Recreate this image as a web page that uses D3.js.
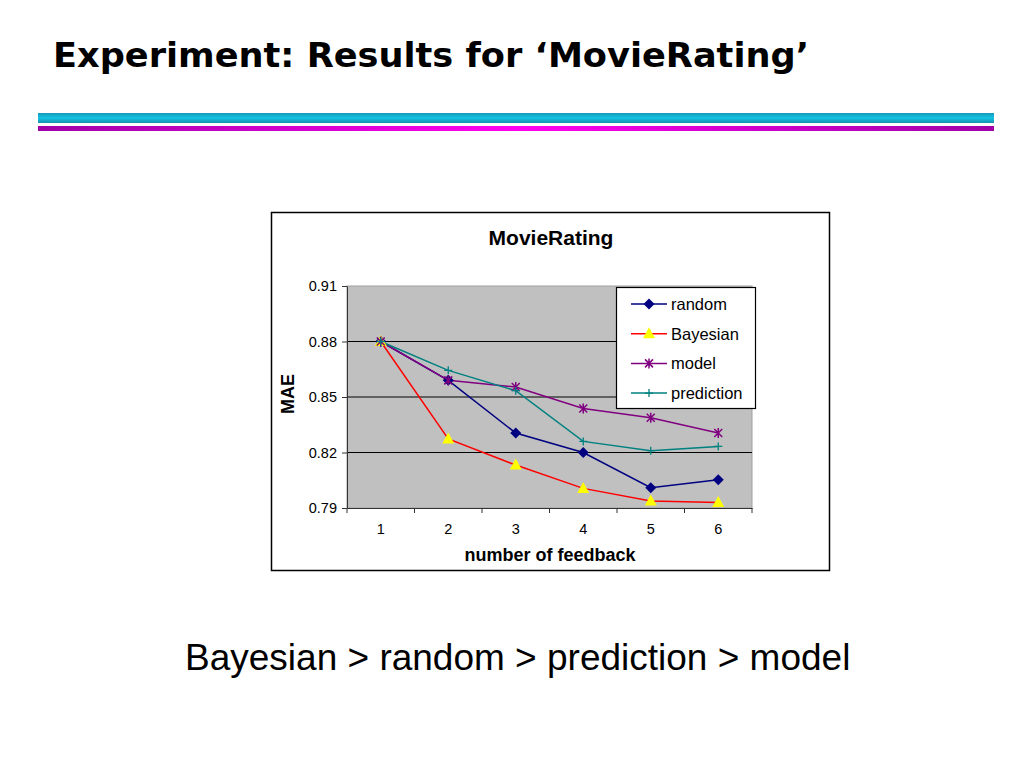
<!DOCTYPE html>
<meta charset="utf-8">
<script src="https://d3js.org/d3.v7.min.js"></script>
<style>
  body { margin: 0; background: #fff; }
</style>
<div id="slide"></div>
<script>

// data
var feedback = [1, 2, 3, 4, 5, 6];
var random = [0.880, 0.859, 0.8305, 0.820, 0.801, 0.8053];
var bayesian = [0.880, 0.8273, 0.8132, 0.8006, 0.7938, 0.7930];
var model = [0.880, 0.859, 0.8554, 0.8438, 0.8388, 0.8305];
var prediction = [0.880, 0.8644, 0.8534, 0.826, 0.821, 0.8233];
var yTicks = [0.79, 0.82, 0.85, 0.88, 0.91];

var series = [
  {name: "random", values: random, color: "#000080", marker: "diamond"},
  {name: "Bayesian", values: bayesian, color: "#ff0000", marker: "triangle"},
  {name: "model", values: model, color: "#800080", marker: "star"},
  {name: "prediction", values: prediction, color: "#008080", marker: "plus"}
];
var markerFill = {diamond: "#000080", triangle: "#ffff00", star: "#800080", plus: "#008080"};

var svg = d3.select("#slide")
  .append("svg")
    .attr("width", 1024)
    .attr("height", 768);

var defs = svg.append("defs");
var g1 = defs.append("linearGradient").attr("id", "cyanGrad")
  .attr("x1", 0).attr("y1", 0).attr("x2", 0).attr("y2", 1);
g1.append("stop").attr("offset", "0%").attr("stop-color", "#1899b8");
g1.append("stop").attr("offset", "50%").attr("stop-color", "#12c4e4");
g1.append("stop").attr("offset", "100%").attr("stop-color", "#1a8fae");
var g2 = defs.append("linearGradient").attr("id", "magGrad")
  .attr("x1", 0).attr("y1", 0).attr("x2", 1).attr("y2", 0);
g2.append("stop").attr("offset", "0%").attr("stop-color", "#a000a8");
g2.append("stop").attr("offset", "50%").attr("stop-color", "#ff00f0");
g2.append("stop").attr("offset", "100%").attr("stop-color", "#a000a8");

// slide title
svg.append("text")
  .attr("x", 53)
  .attr("y", 67)
  .style("font-family", "DejaVu Sans")
  .style("font-weight", "bold")
  .style("font-size", "34px")
  .attr("textLength", 756)
  .attr("lengthAdjust", "spacingAndGlyphs")
  .text("Experiment: Results for \u2018MovieRating\u2019");

// decorative bars
svg.append("rect").attr("x", 38).attr("y", 113).attr("width", 956).attr("height", 10)
  .attr("fill", "url(#cyanGrad)");
svg.append("rect").attr("x", 38).attr("y", 126).attr("width", 956).attr("height", 5)
  .attr("fill", "url(#magGrad)");

// chart frame
svg.append("rect")
  .attr("x", 271.5).attr("y", 212.5)
  .attr("width", 558).attr("height", 358)
  .attr("fill", "#fff")
  .attr("stroke", "#000")
  .attr("stroke-width", 1.5);

var margin = {left: 347, top: 286},
    width = 752 - 347,
    height = 508 - 286;

var chart = svg.append("g")
  .attr("transform", "translate(" + margin.left + "," + margin.top + ")");

var x = d3.scaleBand()
  .domain(feedback)
  .range([0, width]);

var y = d3.scaleLinear()
  .domain([0.79, 0.91])
  .range([height, 0]);

// plot area
chart.append("rect")
  .attr("width", width)
  .attr("height", height)
  .attr("fill", "#c0c0c0")
  .attr("stroke", "#a0a0a0");

// gridlines
chart.selectAll(".grid")
  .data(yTicks.slice(1, 4))
  .enter()
  .append("line")
    .attr("x1", 0)
    .attr("x2", width)
    .attr("y1", function(d) { return y(d); })
    .attr("y2", function(d) { return y(d); })
    .attr("stroke", "#000")
    .attr("stroke-width", 1.2);

// Y axis
var yAxis = chart.append("g")
  .call(d3.axisLeft(y).tickValues(yTicks).tickFormat(d3.format(".2f")).tickSize(5).tickSizeOuter(0));
yAxis.select(".domain").attr("stroke", "#333");
yAxis.selectAll("line").attr("stroke", "#333");
yAxis.selectAll("text")
  .attr("x", -10)
  .style("font-family", "Liberation Sans")
  .style("font-size", "14.5px")
  .attr("fill", "#000");

// X axis
var xAxis = chart.append("g")
  .attr("transform", "translate(0," + height + ")")
  .call(d3.axisBottom(x).tickSize(0).tickSizeOuter(0));
xAxis.select(".domain").attr("stroke", "#333");
xAxis.selectAll("text")
  .attr("y", 16)
  .style("font-family", "Liberation Sans")
  .style("font-size", "14.5px")
  .attr("fill", "#000");
// tick marks between categories
xAxis.selectAll(".sep")
  .data(d3.range(feedback.length + 1))
  .enter()
  .append("line")
    .attr("x1", function(i) { return i * x.bandwidth(); })
    .attr("x2", function(i) { return i * x.bandwidth(); })
    .attr("y1", 0)
    .attr("y2", 5)
    .attr("stroke", "#333");

// axis labels and title
svg.append("text")
  .attr("x", 551)
  .attr("y", 245)
  .attr("text-anchor", "middle")
  .style("font-family", "Liberation Sans")
  .style("font-weight", "bold")
  .style("font-size", "21px")
  .text("MovieRating");

svg.append("text")
  .attr("x", 550)
  .attr("y", 561)
  .attr("text-anchor", "middle")
  .style("font-family", "Liberation Sans")
  .style("font-weight", "bold")
  .style("font-size", "18px")
  .text("number of feedback");

svg.append("text")
  .attr("transform", "translate(294,394) rotate(-90)")
  .attr("text-anchor", "middle")
  .style("font-family", "Liberation Sans")
  .style("font-weight", "bold")
  .style("font-size", "18px")
  .text("MAE");

// markers
function drawMarker(sel, type, color) {
  if (type === "diamond") {
    sel.append("path").attr("d", "M0,-5.5L5.5,0L0,5.5L-5.5,0Z").attr("fill", markerFill[type]);
  } else if (type === "triangle") {
    sel.append("path").attr("d", "M0,-6.5L6,4.5L-6,4.5Z").attr("fill", markerFill[type]);
  } else if (type === "star") {
    sel.append("path").attr("d", "M-4,-4L4,4M-4,4L4,-4M0,-5L0,5")
      .attr("stroke", markerFill[type]).attr("stroke-width", 1.5).attr("fill", "none");
  } else {
    sel.append("path").attr("d", "M-4,0L4,0M0,-4L0,4")
      .attr("stroke", markerFill[type]).attr("stroke-width", 1.3).attr("fill", "none");
  }
}

var line = d3.line()
  .x(function(d, i) { return x(feedback[i]) + x.bandwidth() / 2; })
  .y(function(d) { return y(d); });

series.forEach(function(s) {
  chart.append("path")
    .datum(s.values)
    .attr("d", line)
    .attr("fill", "none")
    .attr("stroke", s.color)
    .attr("stroke-width", 1.5);
});

series.forEach(function(s) {
  s.values.forEach(function(v, i) {
    var m = chart.append("g")
      .attr("transform", "translate(" + (x(feedback[i]) + x.bandwidth() / 2) + "," + y(v) + ")");
    drawMarker(m, s.marker, s.color);
  });
});

// legend
var legend = svg.append("g");
legend.append("rect")
  .attr("x", 616.5).attr("y", 287.5)
  .attr("width", 139).attr("height", 121)
  .attr("fill", "#fff")
  .attr("stroke", "#000")
  .attr("stroke-width", 1.2);

series.forEach(function(s, i) {
  var ly = 304 + i * 29.7;
  legend.append("line")
    .attr("x1", 631).attr("x2", 667)
    .attr("y1", ly).attr("y2", ly)
    .attr("stroke", s.color)
    .attr("stroke-width", 1.5);
  var m = legend.append("g").attr("transform", "translate(649," + ly + ")");
  drawMarker(m, s.marker, s.color);
  legend.append("text")
    .attr("x", 671)
    .attr("y", ly + 6)
    .style("font-family", "Liberation Sans")
    .style("font-size", "16.5px")
    .text(s.name);
});

// conclusion text
svg.append("text")
  .attr("x", 185)
  .attr("y", 670)
  .style("font-family", "Liberation Sans")
  .style("font-size", "37px")
  .text("Bayesian > random > prediction > model");

</script>
